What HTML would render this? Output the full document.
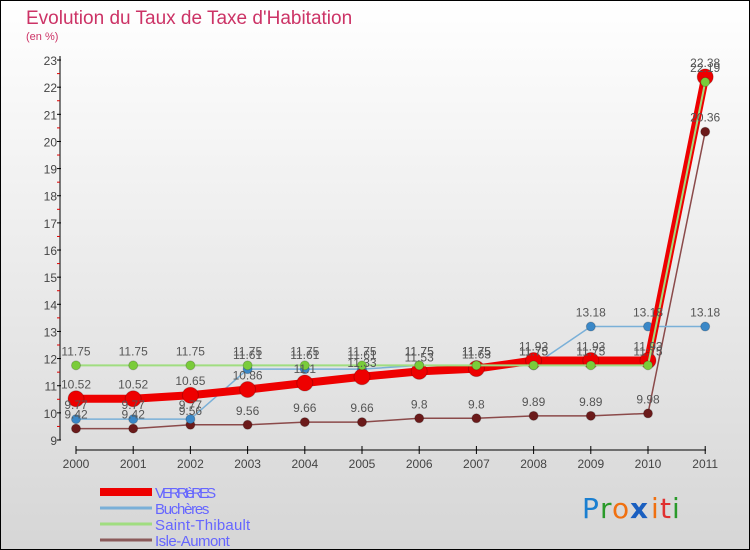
<!DOCTYPE html>
<html><head><meta charset="utf-8"><style>
body{margin:0}
#c{width:748px;height:548px;border:1px solid #000;background:linear-gradient(#fff,#d6d6d6);position:relative;overflow:hidden;font-family:"Liberation Sans",sans-serif}
</style></head><body>
<div id="c">
<svg id="s" width="748" height="548" viewBox="1 1 748 548" style="position:absolute;left:0;top:0">
<text x="26" y="24" font-size="19" fill="#cc3366">Evolution du Taux de Taxe d'Habitation</text>
<text x="26" y="40" font-size="11" fill="#cc3366">(en %)</text>
<g id="axes"></g><g id="series"></g><g id="labels"></g>
<g id="legend"></g>
<g font-size="28" font-family="DejaVu Sans, sans-serif">
<text x="582" y="518" fill="#1a7fd0">P</text><text x="600" y="518" fill="#2a9a2a">r</text><text x="612" y="518" fill="#f07010">o</text><text x="630" y="518" fill="#1a5fc0" font-weight="bold">x</text><text x="651" y="518" fill="#f07010">i</text><text x="660" y="518" fill="#e03030">t</text><text x="672" y="518" fill="#2a9a2a">i</text>
</g>
</svg>
</div>
<script>
const years=["2000","2001","2002","2003","2004","2005","2006","2007","2008","2009","2010","2011"];
const verrieres=[10.52,10.52,10.65,10.86,11.1,11.33,11.53,11.63,11.93,11.93,11.93,22.38];
const bucheres=[9.77,9.77,9.77,11.61,11.61,11.61,11.75,11.75,11.75,13.18,13.18,13.18];
const saintThibault=[11.75,11.75,11.75,11.75,11.75,11.75,11.75,11.75,11.75,11.75,11.75,22.19];
const isleAumont=[9.42,9.42,9.56,9.56,9.66,9.66,9.8,9.8,9.89,9.89,9.98,20.36];
const yTicks=[9,10,11,12,13,14,15,16,17,18,19,20,21,22,23];
const NS="http://www.w3.org/2000/svg";
const X=i=>76+i*57.2, Y=v=>440-(v-9)*27.14;
function mk(p,t,a){const e=document.createElementNS(NS,t);for(const k in a)e.setAttribute(k,a[k]);document.getElementById(p).appendChild(e);return e;}
let e=mk('axes','line',{x1:60,y1:56,x2:60,y2:440,stroke:'#000'});

e=mk('axes','line',{x1:76,y1:450,x2:706,y2:450,stroke:'#000'});

yTicks.forEach(v=>{
 mk('axes','line',{x1:57,y1:Y(v),x2:61,y2:Y(v),stroke:'#000'});
 if(v<23)mk('axes','line',{x1:57,y1:Y(v+0.5),x2:60,y2:Y(v+0.5),stroke:'#d00'});
 const t=mk('axes','text',{x:57,y:Y(v)+5,'font-size':12,fill:'#444','text-anchor':'end'});t.textContent=v;
 
});
years.forEach((y,i)=>{
 mk('axes','line',{x1:X(i),y1:446,x2:X(i),y2:454,stroke:'#000'});
 const t=mk('axes','text',{x:X(i),y:468,'font-size':12,fill:'#444','text-anchor':'middle'});t.textContent=y;
 
});
function series(data,name,col,w,dot,dr){
 const l=mk('series','polyline',{points:data.map((v,i)=>X(i)+','+Y(v)).join(' '),fill:'none',stroke:col,'stroke-width':w,'stroke-linejoin':'round'});
 
 data.forEach((v,i)=>{
  const c=mk('series','circle',{cx:X(i),cy:Y(v),r:dr,fill:dot,stroke:'rgba(0,0,0,0.2)'});
  
  const t=mk('labels','text',{x:X(i),y:Y(v)-10,'font-size':12,fill:'#555','text-anchor':'middle'});t.textContent=v;
  
 });
}
series(isleAumont,'isle-aumont','#8b4a4a',1.5,'#6b1a1a',4.5);
series(bucheres,'bucheres','#7ab0d8',1.5,'#3a88c8',4.5);
series(verrieres,'verrieres','#ee0000',8,'#ee0000',8);
series(saintThibault,'saint-thibault','#a0dd80',2,'#7acc3a',4.5);
const leg=[["VERRIèRES","#ee0000",8],["Buchères","#7ab0d8",3],["Saint-Thibault","#a0dd80",3],["Isle-Aumont","#8b5a5a",3]];
leg.forEach((d,i)=>{
 const y=492+i*16;
 let l=mk('legend','line',{x1:100,y1:y,x2:152,y2:y,stroke:d[1],'stroke-width':d[2]});
 
 const t=mk('legend','text',{x:155,y:y+6,'font-size':15,fill:'#6666ff',textLength:d[0].length*6.8});t.textContent=d[0];
 
});
</script>
</body></html>
